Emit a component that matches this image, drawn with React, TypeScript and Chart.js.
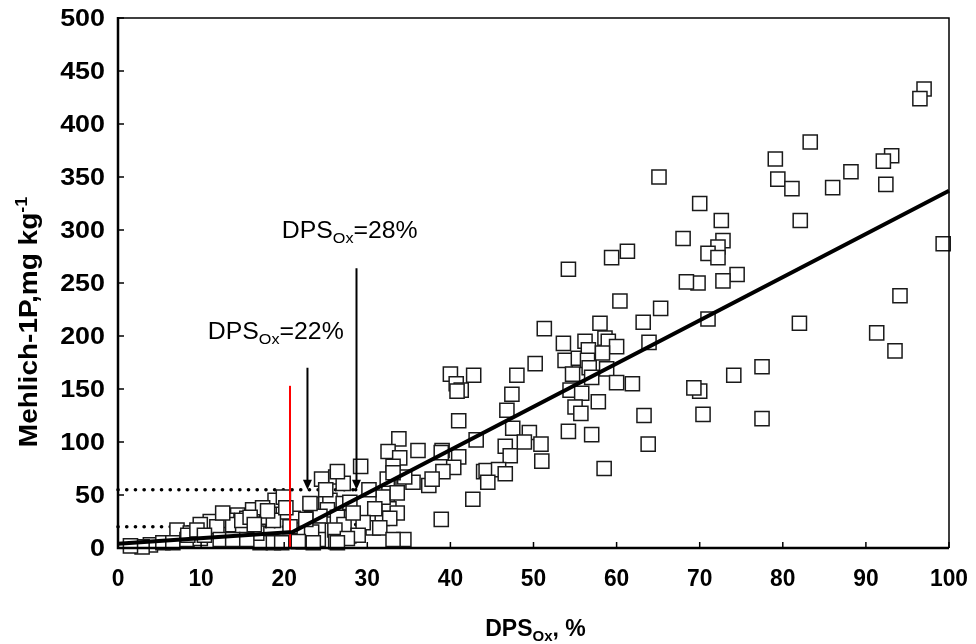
import React, { useEffect, useRef } from "react";
import { Chart, registerables } from "chart.js";

Chart.register(...registerables);

// ---------- data ----------
const X_TICKS = [0, 10, 20, 30, 40, 50, 60, 70, 80, 90, 100];
const Y_TICKS = [0, 50, 100, 150, 200, 250, 300, 350, 400, 450, 500];

const DPS_OX = [
  97.0, 96.5, 83.3, 79.1, 79.4, 81.1, 86.0, 88.2, 93.1, 92.1, 92.4, 70.0, 72.6, 72.8, 72.2, 71.0, 72.2, 74.5, 72.8,
  69.8, 68.4, 82.1, 99.3, 71.0, 82.0, 94.1, 91.3, 93.5, 77.5, 74.1, 70.0, 69.3, 70.4, 77.5, 65.1, 68.0, 61.3, 59.4,
  54.2, 60.4, 65.3, 63.2, 58.0, 51.3, 53.6, 56.2, 58.6, 59.0, 60.0, 53.8, 55.4, 56.6, 58.3, 56.5, 54.7, 56.7, 58.8,
  57.0, 54.4, 55.8, 57.8, 48.0, 50.2, 47.4, 63.9, 60.0, 61.9, 46.8, 55.0, 55.7, 54.2, 57.0, 63.3, 63.8, 58.5, 40.0,
  42.8, 40.7, 41.3, 40.8, 41.0, 47.5, 49.5, 48.9, 50.9, 46.6, 47.2, 51.0, 43.1, 39.0, 41.0, 40.4, 39.1, 44.0, 44.3,
  45.8, 46.6, 44.5, 42.7, 38.9, 34.4, 33.8, 32.5, 33.9, 36.1, 33.1, 38.9, 35.5, 37.4, 37.8, 32.6, 34.5, 32.4, 32.6,
  33.6, 31.8, 31.9, 29.2, 26.2, 24.5, 27.1, 32.4, 33.1, 30.2, 23.3, 25.5, 27.1, 27.9, 33.6, 30.9, 32.7, 25.2, 26.4,
  24.3, 27.2, 30.7, 29.5, 24.1, 26.1, 28.9, 22.3, 24.1, 26.2, 27.6, 23.1, 21.1, 19.9, 18.9, 19.9, 17.7, 17.1, 18.7,
  19.7, 21.9, 23.3, 20.7, 26.4, 16.2, 17.4, 14.4, 15.5, 13.1, 11.1, 9.9, 7.1, 8.7, 11.9, 13.8, 15.0, 16.7, 18.7,
  3.9, 2.9, 5.4, 6.6, 8.3, 9.9, 12.3, 13.8, 15.5, 21.7, 23.5, 26.4, 31.5, 33.1, 8.4, 9.5, 14.9, 15.9, 1.5,
  20.2, 18.0, 22.6, 12.6, 10.4, 16.4, 28.3, 25.0,
];

const MEHLICH_P = [
  433, 424, 383, 367, 348, 339, 340, 355, 370, 365, 343, 325, 309, 290, 284, 278, 274, 258, 252,
  250, 251, 309, 287, 216, 212, 238, 203, 186, 171, 163, 148, 151, 126, 122, 350, 292, 280, 274,
  263, 233, 226, 213, 212, 207, 193, 195, 198, 195, 190, 177, 179, 187, 184, 177, 164, 170, 169,
  161, 149, 146, 138, 163, 174, 145, 194, 156, 155, 130, 133, 127, 110, 107, 125, 98, 75, 164,
  163, 155, 149, 148, 120, 113, 109, 100, 98, 96, 87, 82, 102, 92, 86, 76, 72, 72, 73,
  74, 70, 62, 46, 27, 8, 103, 91, 85, 92, 77, 90, 62, 59, 65, 61, 67, 42, 37,
  33, 28, 48, 77, 67, 65, 61, 65, 71, 55, 41, 45, 42, 43, 52, 37, 28, 36, 29,
  30, 22, 19, 24, 17, 17, 12, 6, 8, 6, 9, 42, 28, 34, 45, 48, 29, 5, 5,
  5, 17, 15, 20, 72, 36, 38, 31, 28, 26, 25, 22, 17, 14, 20, 22, 15, 14, 26,
  3, 1, 5, 5, 8, 9, 8, 8, 8, 6, 5, 5, 19, 8, 12, 17, 26, 29, 2,
  38, 35, 27, 33, 12, 22, 33, 55,
];

// segmented (broken-line) fit
const FIT_X = [0, 21, 100];
const FIT_Y = [4, 15, 337];

// change point marker (red) and arrows
const RED_X = [20.7, 20.7];
const RED_Y = [0, 153];
const ARROW22_X = [22.8, 22.8];
const ARROW22_Y = [170, 55];
const ARROW28_X = [28.7, 28.7];
const ARROW28_Y = [264, 55];

// dotted guide lines
const DOT_UP_X = [0, 28.6];
const DOT_UP_Y = [55, 55];
const DOT_LOW_X = [0, 22.8];
const DOT_LOW_Y = [20, 20];
const DOT_V28_X = [28.6, 28.6];
const DOT_V28_Y = [55, -2];
const DOT_V22_X = [22.8, 22.8];
const DOT_V22_Y = [20, -2];

// annotation labels: anchor (left, baseline) in data units
const ANNOT_VALUES = ["22%", "28%"];
const ANNOT_X = [10.8, 19.7];
const ANNOT_Y = [197, 292];

const pts = (xs: number[], ys: number[]) => xs.map((x, i) => ({ x, y: ys[i] }));

const FONT = "'Liberation Sans', Arial, sans-serif";

type Part = { t: string; font: string; dy: number };

function drawRich(ctx: CanvasRenderingContext2D, parts: Part[], x: number, y: number, align: "left" | "center", sx = 1) {
  let total = 0;
  const widths = parts.map((p) => {
    ctx.font = p.font;
    const w = ctx.measureText(p.t).width;
    total += w;
    return w;
  });
  ctx.save();
  ctx.translate(x, y);
  ctx.scale(sx, 1);
  let cx = align === "center" ? -total / 2 : 0;
  ctx.textAlign = "left";
  ctx.textBaseline = "alphabetic";
  parts.forEach((p, i) => {
    ctx.font = p.font;
    ctx.fillText(p.t, cx, p.dy);
    cx += widths[i];
  });
  ctx.restore();
}

const decorPlugin = {
  id: "decor",
  afterDatasetsDraw(chart: any) {
    const { ctx, chartArea, scales } = chart;
    const xs = scales.x;
    const ys = scales.y;
    const { left, right, top, bottom } = chartArea;
    ctx.save();
    ctx.fillStyle = "#000";
    ctx.strokeStyle = "#000";

    // arrow heads
    const heads = [
      [ARROW22_X[1], ARROW22_Y[1]],
      [ARROW28_X[1], ARROW28_Y[1]],
    ];
    heads.forEach(([hx, hy]) => {
      const px = xs.getPixelForValue(hx);
      const py = ys.getPixelForValue(hy);
      ctx.beginPath();
      ctx.moveTo(px, py);
      ctx.lineTo(px - 4.5, py - 10);
      ctx.lineTo(px + 4.5, py - 10);
      ctx.closePath();
      ctx.fill();
    });

    // frame
    ctx.lineWidth = 1.5;
    ctx.beginPath();
    ctx.moveTo(left, top);
    ctx.lineTo(right, top);
    ctx.lineTo(right, bottom);
    ctx.stroke();
    ctx.lineWidth = 2.5;
    ctx.beginPath();
    ctx.moveTo(left, top - 1);
    ctx.lineTo(left, bottom);
    ctx.lineTo(right, bottom);
    ctx.stroke();

    // inward ticks
    ctx.lineWidth = 1.5;
    X_TICKS.forEach((v) => {
      const px = xs.getPixelForValue(v);
      ctx.beginPath();
      ctx.moveTo(px, bottom);
      ctx.lineTo(px, bottom - 6);
      ctx.stroke();
    });
    Y_TICKS.forEach((v) => {
      const py = ys.getPixelForValue(v);
      ctx.beginPath();
      ctx.moveTo(left, py);
      ctx.lineTo(left + 6, py);
      ctx.stroke();
    });

    // tick labels
    ctx.textBaseline = "middle";
    Y_TICKS.forEach((v) => {
      const py = ys.getPixelForValue(v);
      ctx.save();
      ctx.translate(left - 13, py + 1);
      ctx.scale(1.12, 1);
      ctx.font = `bold 24px ${FONT}`;
      ctx.textAlign = "right";
      ctx.fillText(String(v), 0, 0);
      ctx.restore();
    });
    X_TICKS.forEach((v) => {
      const px = xs.getPixelForValue(v);
      ctx.save();
      ctx.translate(px, bottom + 31);
      ctx.scale(0.95, 1);
      ctx.font = `bold 24px ${FONT}`;
      ctx.textAlign = "center";
      ctx.fillText(String(v), 0, 0);
      ctx.restore();
    });

    // axis titles
    const big = `bold 23px ${FONT}`;
    const small = `bold 15px ${FONT}`;
    drawRich(
      ctx,
      [
        { t: "DPS", font: big, dy: 0 },
        { t: "Ox", font: small, dy: 5 },
        { t: ", %", font: big, dy: 0 },
      ],
      (left + right) / 2 + 2,
      bottom + 88,
      "center"
    );
    const ybig = `bold 25px ${FONT}`;
    const ysmall = `bold 16px ${FONT}`;
    ctx.save();
    ctx.translate(37, 322);
    ctx.rotate(-Math.PI / 2);
    drawRich(
      ctx,
      [
        { t: "Mehlich-1P,mg kg", font: ybig, dy: 0 },
        { t: "-1", font: ysmall, dy: -10 },
      ],
      0,
      0,
      "center",
      1.12
    );
    ctx.restore();

    // annotations
    const reg = `23px ${FONT}`;
    const regSmall = `15px ${FONT}`;
    ANNOT_VALUES.forEach((val, i) => {
      drawRich(
        ctx,
        [
          { t: "DPS", font: reg, dy: 0 },
          { t: "Ox", font: regSmall, dy: 5 },
          { t: "=" + val, font: reg, dy: 0 },
        ],
        xs.getPixelForValue(ANNOT_X[i]),
        ys.getPixelForValue(ANNOT_Y[i]),
        "left",
        1.08
      );
    });
    ctx.restore();
  },
};

export default function App() {
  const ref = useRef<HTMLCanvasElement | null>(null);
  useEffect(() => {
    if (!ref.current) return;
    const dotted = (xs: number[], ys: number[]) => ({
      data: pts(xs, ys),
      showLine: true,
      borderColor: "#000",
      borderWidth: 3.6,
      borderDash: [0.1, 8.6],
      borderCapStyle: "round",
      pointRadius: 0,
      clip: false,
      order: 3,
    });
    const solid = (xs: number[], ys: number[], color: string, width: number, order: number) => ({
      data: pts(xs, ys),
      showLine: true,
      borderColor: color,
      borderWidth: width,
      pointRadius: 0,
      clip: false,
      order,
    });
    const chart = new Chart(ref.current, {
      type: "scatter",
      data: {
        datasets: [
          {
            data: pts(DPS_OX, MEHLICH_P),
            pointStyle: "rect",
            pointRadius: 10,
            pointBorderWidth: 1.5,
            pointBorderColor: "#1a1a1a",
            pointBackgroundColor: "#ffffff",
            clip: false,
            order: 2,
          } as any,
          dotted(DOT_UP_X, DOT_UP_Y),
          dotted(DOT_LOW_X, DOT_LOW_Y),
          dotted(DOT_V28_X, DOT_V28_Y),
          dotted(DOT_V22_X, DOT_V22_Y),
          solid(FIT_X, FIT_Y, "#000", 4, 0),
          solid(RED_X, RED_Y, "#ff0000", 2, 0),
          solid(ARROW22_X, ARROW22_Y.map((v, i) => (i === 1 ? v + 8 : v)), "#000", 2, 0),
          solid(ARROW28_X, ARROW28_Y.map((v, i) => (i === 1 ? v + 8 : v)), "#000", 2, 0),
        ] as any,
      },
      options: {
        responsive: false,
        animation: false,
        layout: { padding: { top: 18, right: 27, left: 0, bottom: 0 } },
        plugins: { legend: { display: false }, tooltip: { enabled: false }, title: { display: false } },
        scales: {
          x: {
            type: "linear",
            min: 0,
            max: 100,
            grid: { display: false },
            border: { display: false },
            ticks: { display: false },
            afterFit: (s: any) => {
              s.height = 96;
            },
          },
          y: {
            type: "linear",
            min: 0,
            max: 500,
            grid: { display: false },
            border: { display: false },
            ticks: { display: false },
            afterFit: (s: any) => {
              s.width = 118;
            },
          },
        },
      } as any,
      plugins: [decorPlugin],
    });
    return () => chart.destroy();
  }, []);
  return (
    <div style={{ position: "fixed", left: 0, top: 0, width: 976, height: 644, background: "#fff" }}>
      <canvas ref={ref} width={976} height={644} style={{ display: "block" }} />
    </div>
  );
}
